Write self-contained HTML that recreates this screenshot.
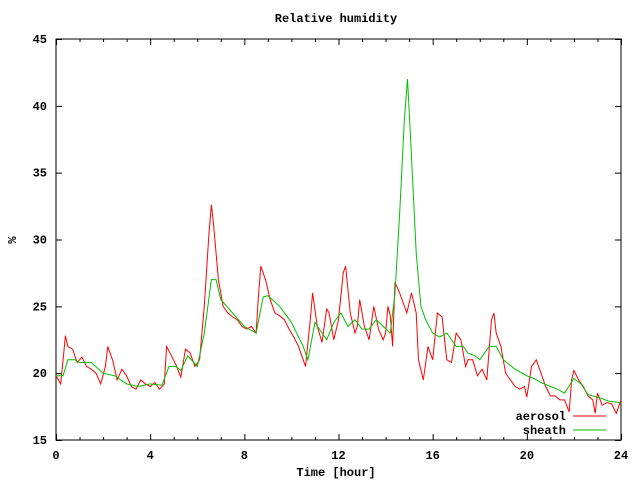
<!DOCTYPE html>
<html><head><meta charset="utf-8"><style>
body{margin:0;background:#fff}
svg text{font-family:"Liberation Mono",monospace;font-size:12px;font-weight:bold;fill:#000}
</style></head><body>
<svg id="chart" width="640" height="480" xmlns="http://www.w3.org/2000/svg">
<rect width="640" height="480" fill="#fff"/>
<text x="336" y="22" text-anchor="middle">Relative humidity</text>
<text x="16" y="240" text-anchor="middle" transform="rotate(-90 16 240)">%</text>
<text x="336" y="476" text-anchor="middle">Time [hour]</text>
<g id="axes"></g>
<g id="series"></g>
<g>
<text x="566" y="420" text-anchor="end">aerosol</text>
<line x1="573" y1="416" x2="606" y2="416" stroke="#ff0000"/>
<text x="566" y="434" text-anchor="end">sheath</text>
<line x1="573" y1="430" x2="606" y2="430" stroke="#00c000"/>
</g>
</svg>
<script>
const xTicks=[0,4,8,12,16,20,24];
const yTicks=[15,20,25,30,35,40,45];
const aerosolT=[0,0.2,0.3,0.4,0.5,0.7,0.9,1.1,1.3,1.5,1.7,1.9,2.1,2.2,2.4,2.6,2.8,3.0,3.2,3.4,3.6,3.8,4.0,4.2,4.4,4.6,4.7,4.9,5.1,5.3,5.5,5.7,5.9,6.1,6.3,6.5,6.6,6.7,6.9,7.1,7.3,7.5,7.7,7.9,8.1,8.3,8.5,8.6,8.7,8.9,9.1,9.3,9.5,9.7,9.9,10.1,10.3,10.5,10.6,10.8,10.9,11.1,11.3,11.5,11.6,11.8,12.0,12.2,12.3,12.5,12.7,12.8,12.9,13.1,13.3,13.5,13.7,13.9,14.0,14.1,14.2,14.3,14.4,14.6,14.9,15.1,15.3,15.4,15.6,15.8,16.0,16.2,16.4,16.6,16.8,17.0,17.2,17.4,17.5,17.7,17.9,18.1,18.3,18.5,18.6,18.7,18.9,19.1,19.3,19.5,19.7,19.9,20.0,20.2,20.4,20.6,20.8,21.0,21.2,21.4,21.6,21.8,21.9,22.0,22.2,22.4,22.6,22.8,22.9,23.0,23.2,23.4,23.6,23.8,24];
const aerosolV=[19.8,19.2,21,22.8,22,21.8,20.8,21.2,20.5,20.3,20,19.2,20.5,22,21,19.5,20.3,19.8,19,18.8,19.5,19.2,19,19.3,18.8,19.2,22,21.3,20.6,19.7,21.8,21.5,20.5,21,25,30.5,32.6,31,27,25,24.5,24.2,24,23.5,23.3,23.5,23,25.8,28,27,25.5,24.5,24.3,24,23.3,22.7,22,21,20.5,24,26,23.5,22.3,24.8,24.5,22.5,24,27.5,28,24.5,23,23.5,25.5,23.5,22.5,25,23.3,22.5,23,25,24.3,22,26.8,26,24.5,26,24.5,21,19.5,22,21,24.5,24.2,21,20.8,23,22.5,20.5,21,21,19.8,20.3,19.5,24,24.5,23,22,20,19.5,19,18.8,19,18.2,20.5,21,20,19,18.3,18.3,18,18,17.1,19.5,20.2,19.5,19,18.3,18,17,18.5,17.6,17.8,17.7,17,18];
const sheathT=[0,0.3,0.5,0.8,1.0,1.5,2.0,2.5,3.0,3.5,4.0,4.5,4.8,5.1,5.3,5.6,6.0,6.3,6.6,6.8,7.0,7.5,8.0,8.5,8.8,9.0,9.5,10,10.5,10.7,11.0,11.3,11.5,11.8,12.1,12.4,12.7,13.0,13.3,13.6,13.9,14.2,14.4,14.6,14.8,14.93,15.05,15.3,15.5,15.7,16,16.3,16.6,17,17.3,17.5,17.8,18,18.4,18.7,19,19.5,20,20.3,20.6,21,21.3,21.6,22.0,22.3,22.6,23,23.5,24];
const sheathV=[19.8,19.8,21,21,20.8,20.8,20,19.8,19.2,19,19.2,19.1,20.5,20.5,20.2,21.3,20.5,23,27,27,25.5,24.5,23.5,23,25.7,25.8,25,23.8,22,21,23.8,23,22.5,23.8,24.5,23.5,24,23.3,23.3,24,23.5,23,26,32,39,42,38,29,25,24,23,22.7,23,22,22,21.5,21.3,21,22,22,21,20.3,19.8,19.6,19.3,19,18.8,18.5,19.6,19.2,18.4,18.2,17.9,17.8];
const X0=56,X1=621,Y0=440,Y1=39;
const sx=h=>X0+(h-0)/(24-0)*(X1-X0);
const sy=v=>Y0-(v-15)/(45-15)*(Y0-Y1);
const NS="http://www.w3.org/2000/svg";
const axes=document.getElementById('axes');
function mk(tag,parent){const e=document.createElementNS(NS,tag);parent.appendChild(e);return e;}
const box=mk('rect',axes);


box.setAttribute('x',X0);box.setAttribute('y',Y1);box.setAttribute('width',X1-X0);box.setAttribute('height',Y0-Y1);
box.setAttribute('fill','none');box.setAttribute('stroke','#000');
for(let h=0;h<=24;h++){
  const major=h%4===0,len=major?6:3,x=sx(h)+0.5;
  const t=mk('path',axes);
  
  
  t.setAttribute('d',`M${x} ${Y0}v${-len}M${x} ${Y1}v${len}`);t.setAttribute('stroke','#000');
}
xTicks.forEach(h=>{const t=mk('text',axes);
  
  
  t.setAttribute('x',sx(h));t.setAttribute('y',459);t.setAttribute('text-anchor','middle');t.textContent=h;});
yTicks.forEach(v=>{const y=sy(v)+0.5;
  const t=mk('path',axes);
  
  
  t.setAttribute('d',`M${X0} ${y}h6M${X1} ${y}h-6`);t.setAttribute('stroke','#000');
  const l=mk('text',axes);
  
  
  l.setAttribute('x',47);l.setAttribute('y',sy(v)+4);l.setAttribute('text-anchor','end');l.textContent=v;});
const ser=document.getElementById('series');
function line(T,V,color,name){const p=mk('polyline',ser);
  
  
  p.setAttribute('points',T.map((t,i)=>sx(t).toFixed(1)+','+sy(V[i]).toFixed(1)).join(' '));
  p.setAttribute('fill','none');p.setAttribute('stroke',color);p.setAttribute('stroke-width','1');}
line(aerosolT,aerosolV,'#ff0000','aerosol-line');
line(sheathT,sheathV,'#00c000','sheath-line');
</script>
</body></html>
